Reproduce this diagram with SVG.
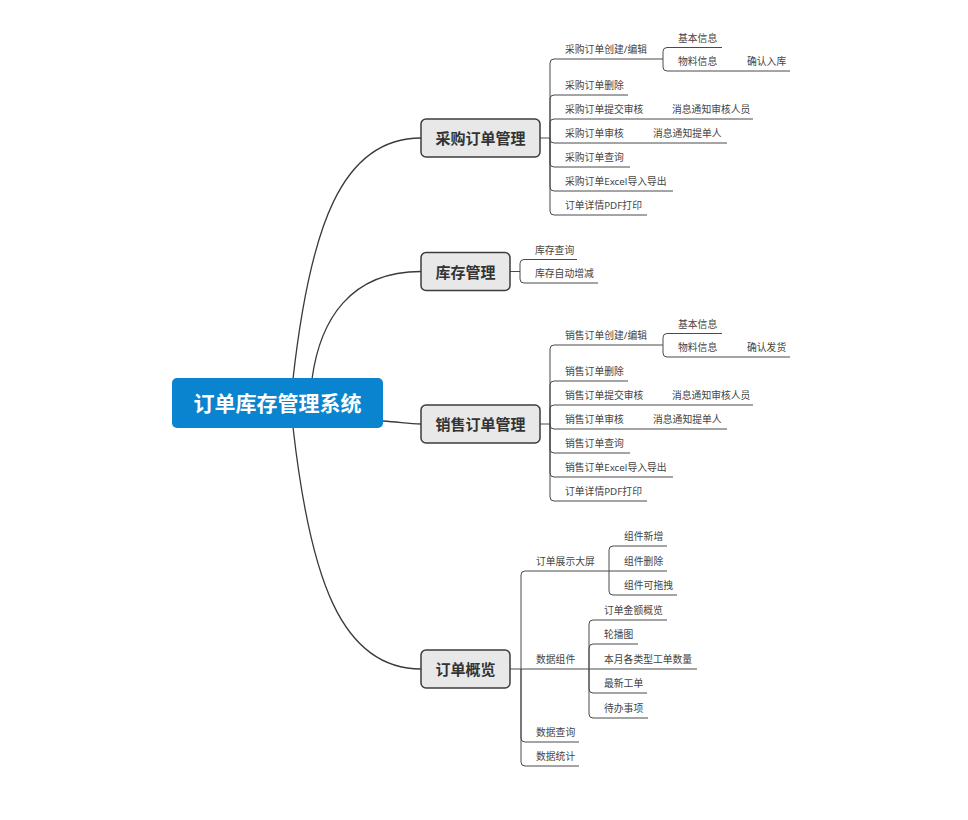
<svg xmlns="http://www.w3.org/2000/svg" width="968" height="820" viewBox="0 0 968 820">
<style>
.bg{fill:#ffffff}
.ln{fill:none;stroke:#4a4a4a;stroke-width:1}
.cv{fill:none;stroke:#3a3a3a;stroke-width:1.3}
.box{fill:#e8e8e8;stroke:#3c3c3c;stroke-width:1.5}
.root{fill:#0b84cf}
text{font-family:"Noto Sans","Noto Sans CJK SC",sans-serif;dominant-baseline:central}
.rt{font-size:21px;font-weight:bold;fill:#ffffff;text-anchor:middle}
.bt{font-size:15px;font-weight:bold;fill:#333333;text-anchor:middle}
.t{font-size:9.8px;fill:#444444}
</style>
<rect class="bg" x="0" y="0" width="968" height="820"/>
<g id="connectors">
  <path class="cv" d="M 293 379 C 310 228, 341 138, 421 138"/>
  <path class="cv" d="M 312 379 C 320 320, 350 271.5, 421 271.5"/>
  <path class="cv" d="M 383 421 C 400 422, 408 424, 421 424"/>
  <path class="cv" d="M 293 427 C 310 578, 341 669, 421 669"/>
  <path class="ln" d="M 540 138 H 550"/>
  <path class="ln" d="M 550 138 V 63 Q 550 59 554 59 H 663"/>
  <path class="ln" d="M 663 59 V 51.5 Q 663 47.5 667 47.5 H 722"/>
  <path class="ln" d="M 663 59 V 67 Q 663 71 667 71 H 790"/>
  <path class="ln" d="M 550 138 V 99 Q 550 95 554 95 H 628"/>
  <path class="ln" d="M 550 138 V 123 Q 550 119 554 119 H 753"/>
  <path class="ln" d="M 550 138 V 139 Q 550 143 554 143 H 727"/>
  <path class="ln" d="M 550 138 V 163 Q 550 167 554 167 H 630"/>
  <path class="ln" d="M 550 138 V 187 Q 550 191 554 191 H 673"/>
  <path class="ln" d="M 550 138 V 211 Q 550 215 554 215 H 647"/>
  <path class="ln" d="M 510 271.5 H 520"/>
  <path class="ln" d="M 520 271.5 V 263.5 Q 520 259.5 524 259.5 H 577"/>
  <path class="ln" d="M 520 271.5 V 279 Q 520 283 524 283 H 598"/>
  <path class="ln" d="M 540 424 H 550"/>
  <path class="ln" d="M 550 424 V 349 Q 550 345 554 345 H 663"/>
  <path class="ln" d="M 663 345 V 337.5 Q 663 333.5 667 333.5 H 722"/>
  <path class="ln" d="M 663 345 V 353 Q 663 357 667 357 H 790"/>
  <path class="ln" d="M 550 424 V 385 Q 550 381 554 381 H 628"/>
  <path class="ln" d="M 550 424 V 409 Q 550 405 554 405 H 753"/>
  <path class="ln" d="M 550 424 V 425 Q 550 429 554 429 H 727"/>
  <path class="ln" d="M 550 424 V 449 Q 550 453 554 453 H 630"/>
  <path class="ln" d="M 550 424 V 473 Q 550 477 554 477 H 673"/>
  <path class="ln" d="M 550 424 V 497 Q 550 501 554 501 H 647"/>
  <path class="ln" d="M 510 669 H 521"/>
  <path class="ln" d="M 521 669 V 575 Q 521 571 525 571 H 609"/>
  <path class="ln" d="M 521 669 H 589"/>
  <path class="ln" d="M 521 669 V 738 Q 521 742 525 742 H 579"/>
  <path class="ln" d="M 521 669 V 762 Q 521 766 525 766 H 579"/>
  <path class="ln" d="M 609 571 V 550 Q 609 546 613 546 H 667"/>
  <path class="ln" d="M 609 571 H 667"/>
  <path class="ln" d="M 609 571 V 591 Q 609 595 613 595 H 677"/>
  <path class="ln" d="M 589 669 V 624 Q 589 620 593 620 H 667"/>
  <path class="ln" d="M 589 669 V 648 Q 589 644 593 644 H 638"/>
  <path class="ln" d="M 589 669 H 697"/>
  <path class="ln" d="M 589 669 V 689 Q 589 693 593 693 H 647"/>
  <path class="ln" d="M 589 669 V 714 Q 589 718 593 718 H 648"/>
</g>
<g id="root">
  <rect class="root" x="172" y="378" width="211" height="50" rx="5"/>
  <text class="rt" x="277.5" y="403">订单库存管理系统</text>
</g>
<g id="purchase">
  <rect class="box" x="421" y="119" width="119" height="38" rx="5"/>
  <text class="bt" x="480.5" y="138">采购订单管理</text>
</g>
<g id="purchase-items">
  <text class="t" x="565" y="49.5">采购订单创建/编辑</text>
  <text class="t" x="678" y="38">基本信息</text>
  <text class="t" x="678" y="61.5">物料信息</text>
  <text class="t" x="747" y="61.5">确认入库</text>
  <text class="t" x="565" y="85.5">采购订单删除</text>
  <text class="t" x="565" y="109.5">采购订单提交审核</text>
  <text class="t" x="672" y="109.5">消息通知审核人员</text>
  <text class="t" x="565" y="133.5">采购订单审核</text>
  <text class="t" x="653" y="133.5">消息通知提单人</text>
  <text class="t" x="565" y="157.5">采购订单查询</text>
  <text class="t" x="565" y="181.5">采购订单Excel导入导出</text>
  <text class="t" x="565" y="205.5">订单详情PDF打印</text>
</g>
<g id="stock">
  <rect class="box" x="421" y="252.5" width="89" height="38" rx="5"/>
  <text class="bt" x="465.5" y="271.5">库存管理</text>
</g>
<g id="stock-items">
  <text class="t" x="535" y="250">库存查询</text>
  <text class="t" x="535" y="273.5">库存自动增减</text>
</g>
<g id="sales">
  <rect class="box" x="421" y="405" width="119" height="38" rx="5"/>
  <text class="bt" x="480.5" y="424">销售订单管理</text>
</g>
<g id="sales-items">
  <text class="t" x="565" y="335.5">销售订单创建/编辑</text>
  <text class="t" x="678" y="324">基本信息</text>
  <text class="t" x="678" y="347.5">物料信息</text>
  <text class="t" x="747" y="347.5">确认发货</text>
  <text class="t" x="565" y="371.5">销售订单删除</text>
  <text class="t" x="565" y="395.5">销售订单提交审核</text>
  <text class="t" x="672" y="395.5">消息通知审核人员</text>
  <text class="t" x="565" y="419.5">销售订单审核</text>
  <text class="t" x="653" y="419.5">消息通知提单人</text>
  <text class="t" x="565" y="443.5">销售订单查询</text>
  <text class="t" x="565" y="467.5">销售订单Excel导入导出</text>
  <text class="t" x="565" y="491.5">订单详情PDF打印</text>
</g>
<g id="overview">
  <rect class="box" x="421" y="650" width="89" height="38" rx="5"/>
  <text class="bt" x="465.5" y="669">订单概览</text>
</g>
<g id="overview-items">
  <text class="t" x="536" y="561.5">订单展示大屏</text>
  <text class="t" x="624" y="536.5">组件新增</text>
  <text class="t" x="624" y="561.5">组件删除</text>
  <text class="t" x="624" y="585.5">组件可拖拽</text>
  <text class="t" x="536" y="659.5">数据组件</text>
  <text class="t" x="604" y="610.5">订单金额概览</text>
  <text class="t" x="604" y="634.5">轮播图</text>
  <text class="t" x="604" y="659.5">本月各类型工单数量</text>
  <text class="t" x="604" y="683.5">最新工单</text>
  <text class="t" x="604" y="708.5">待办事项</text>
  <text class="t" x="536" y="732.5">数据查询</text>
  <text class="t" x="536" y="756.5">数据统计</text>
</g>
</svg>
